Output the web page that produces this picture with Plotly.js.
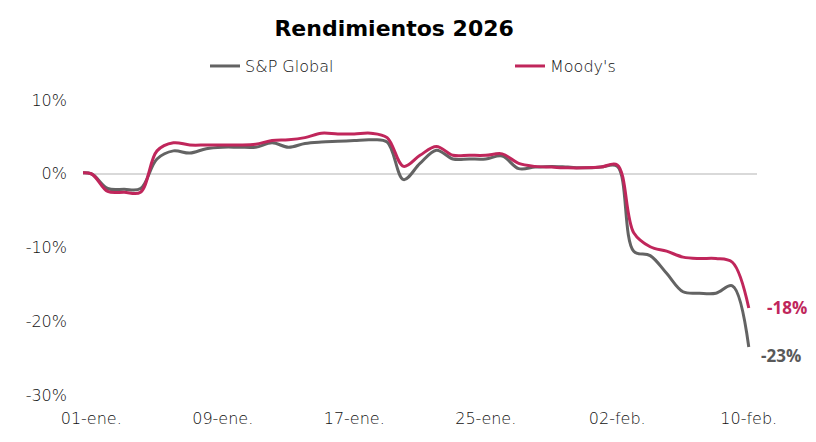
<!DOCTYPE html>
<html>
<head>
<meta charset="utf-8">
<script src="https://cdn.plot.ly/plotly-3.0.1.min.js"></script>
<style>html,body{margin:0;padding:0;background:#fff;}#chart{width:816px;height:442px;}</style>
</head>
<body>
<div id="chart"></div>
<script>
// Dates (daily, base 31-dic = 0)
const dates = [
  "2025-12-31","2026-01-01","2026-01-02","2026-01-03","2026-01-04","2026-01-05","2026-01-06","2026-01-07",
  "2026-01-08","2026-01-09","2026-01-10","2026-01-11","2026-01-12","2026-01-13","2026-01-14","2026-01-15",
  "2026-01-16","2026-01-17","2026-01-18","2026-01-19","2026-01-20","2026-01-21","2026-01-22","2026-01-23",
  "2026-01-24","2026-01-25","2026-01-26","2026-01-27","2026-01-28","2026-01-29","2026-01-30","2026-01-31",
  "2026-02-01","2026-02-02","2026-02-03","2026-02-04","2026-02-05","2026-02-06","2026-02-07","2026-02-08",
  "2026-02-09","2026-02-10"
];
// Returns in %
const spGlobal = [
  0, 0, -2.0, -2.1, -2.0, 2.0, 3.1, 2.8,
  3.4, 3.6, 3.6, 3.6, 4.2, 3.6, 4.1, 4.3,
  4.4, 4.5, 4.6, 4.3, -0.8, 1.4, 3.2, 2.0,
  2.0, 2.0, 2.4, 0.7, 0.9, 1.0, 0.9, 0.8,
  0.9, 1.0, -10.5, -11.1, -13.5, -16.0, -16.2, -16.2,
  -15.2, -23.5
];
const moodys = [
  0, 0, -2.4, -2.5, -2.5, 3.1, 4.2, 3.9,
  3.9, 3.9, 3.9, 4.0, 4.5, 4.6, 4.9, 5.5,
  5.4, 5.4, 5.5, 4.9, 1.0, 2.5, 3.7, 2.5,
  2.5, 2.5, 2.7, 1.4, 1.0, 0.9, 0.8, 0.8,
  0.9, 1.2, -8.0, -9.9, -10.5, -11.3, -11.5, -11.5,
  -12.0, -18.2
];
const tickDates = ["2026-01-01","2026-01-09","2026-01-17","2026-01-25","2026-02-02","2026-02-10"];
const tickLabels = ["01-ene.","09-ene.","17-ene.","25-ene.","02-feb.","10-feb."];
const yTicks = [10, 0, -10, -20, -30];
const yTickLabels = ["10%","0%","-10%","-20%","-30%"];
const seriesNames = ["S&P Global","Moody's"];
const endLabels = ["-23%","-18%"];

const grayC = "#636363", redC = "#C0265B";
const FONT = "'DejaVu Sans', 'Open Sans', sans-serif";
const TFONT = "'DejaVu Sans', 'Open Sans', sans-serif";
const last = dates.length - 1;

const traces = [
  {x: dates, y: spGlobal, name: seriesNames[0], type: "scatter", mode: "lines", legend: "legend",
   line: {color: grayC, width: 3, shape: "spline", smoothing: 1}},
  {x: dates, y: moodys, name: seriesNames[1], type: "scatter", mode: "lines", legend: "legend2",
   line: {color: redC, width: 3, shape: "spline", smoothing: 1}}
];

const thin = {family: FONT, size: 16, color: "#111", weight: 200};
const layout = {
  width: 816, height: 442,
  paper_bgcolor: "#fff", plot_bgcolor: "#fff",
  margin: {l: 83, r: 59, t: 100, b: 47, autoexpand: false},
  font: thin,
  title: {text: "<b>Rendimientos 2026</b>", x: 0.483, xanchor: "center", y: 0.937, yanchor: "middle",
          font: {family: TFONT, size: 22, color: "#000"}},
  showlegend: true,
  legend: {orientation: "h", x: 0.17, xanchor: "left", y: 1.115, yanchor: "middle",
           font: thin, bgcolor: "rgba(0,0,0,0)", itemwidth: 30},
  legend2: {orientation: "h", x: 0.62, xanchor: "left", y: 1.115, yanchor: "middle",
           font: thin, bgcolor: "rgba(0,0,0,0)", itemwidth: 30},
  xaxis: {type: "date", range: ["2025-12-31 12:00", "2026-02-10 12:00"],
          tickmode: "array", tickvals: tickDates, ticktext: tickLabels,
          showgrid: false, zeroline: false, showline: false, ticks: "",
          tickfont: thin, ticklabelstandoff: 12},
  yaxis: {range: [-30, 10], tickmode: "array", tickvals: yTicks, ticktext: yTickLabels,
          showgrid: false, zeroline: true, zerolinecolor: "#d9d9d9", zerolinewidth: 2,
          showline: false, ticks: "", ticklabelstandoff: 15,
          tickfont: thin},
  annotations: [
    {x: dates[last], y: spGlobal[last], xref: "x", yref: "y", text: "<b>" + endLabels[0] + "</b>",
     showarrow: false, xanchor: "center", yanchor: "middle", xshift: 32, yshift: -8,
     font: {family: "'Open Sans', sans-serif", size: 17, color: "#595959"}},
    {x: dates[last], y: moodys[last], xref: "x", yref: "y", text: "<b>" + endLabels[1] + "</b>",
     showarrow: false, xanchor: "center", yanchor: "middle", xshift: 38, yshift: 0,
     font: {family: "'Open Sans', sans-serif", size: 17, color: redC}}
  ]
};
// legend x positions in paper fraction (plot area 83..757)
layout.legend.x = (205 - 83) / 674;
layout.legend2.x = (510 - 83) / 674;

Plotly.newPlot("chart", traces, layout, {displayModeBar: false, staticPlot: true});
</script>
</body>
</html>
